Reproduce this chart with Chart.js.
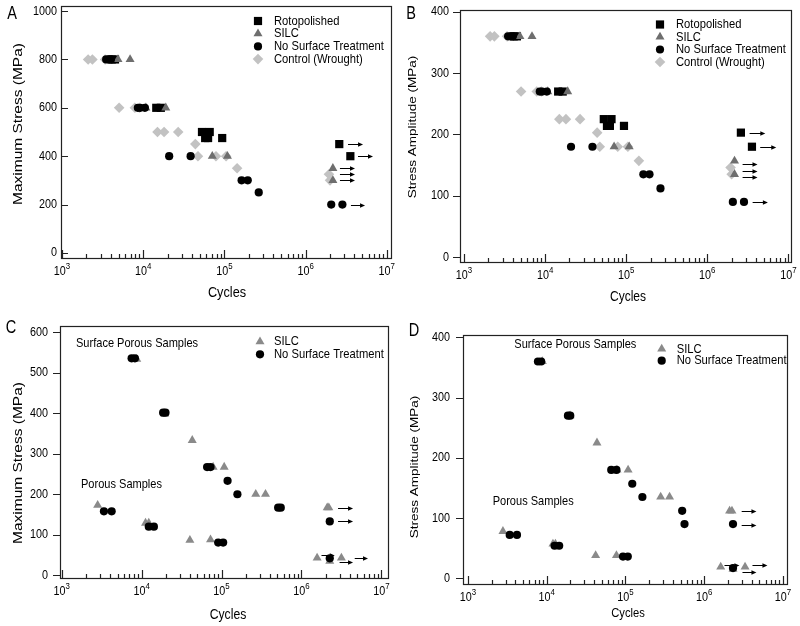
<!DOCTYPE html>
<html>
<head>
<meta charset="utf-8">
<script src="https://cdn.jsdelivr.net/npm/chart.js@4.4.1/dist/chart.umd.min.js"></script>
<style>
  html, body { margin: 0; padding: 0; background: #fff; }
  #wrap { position: relative; width: 800px; height: 626px; }
  #wrap canvas { position: absolute; }
</style>
</head>
<body>
<div id="wrap">
  <canvas id="chartA" width="400" height="305" style="left:0;top:0"></canvas>
  <canvas id="chartB" width="400" height="305" style="left:400px;top:0"></canvas>
  <canvas id="chartC" width="400" height="316" style="left:0;top:310px"></canvas>
  <canvas id="chartD" width="400" height="316" style="left:400px;top:310px"></canvas>
</div>
<script>
// ---- data: panels A & B (same specimens, max stress vs stress amplitude) ----
const rotoCycles = [4100, 4500, 14500, 16500, 53000, 66000, 58000, 63000, 94000, 2600000, 3560000];
const rotoMax    = [800, 800, 600, 600, 500, 500, 475, 475, 475, 450, 400];
const rotoAmp    = [360, 360, 270, 270, 225, 225, 214, 214, 214, 203, 180];

const silcCycles = [4900, 6900, 10800, 19000, 71000, 109000, 2170000, 2170000];
const silcMax    = [800, 800, 600, 600, 400, 400, 350, 300];
const silcAmp    = [360, 360, 270, 270, 180, 180, 157, 135];

const nstCycles  = [3500, 3800, 4000, 8600, 9200, 10500, 20900, 38400, 163000, 194000, 265000, 2070000, 2840000];
const nstMax     = [800, 800, 800, 600, 600, 600, 400, 400, 300, 300, 250, 200, 200];
const nstAmp     = [360, 360, 360, 270, 270, 270, 180, 180, 135, 135, 112, 90, 90];

const ctrlCycles = [2100, 2370, 3400, 5060, 7900, 9000, 15000, 18100, 27000, 43900, 47300, 78800, 105000, 143500, 1940000, 2000000];
const ctrlMax    = [800, 800, 800, 600, 600, 600, 500, 500, 500, 450, 400, 400, 400, 350, 325, 300];
const ctrlAmp    = [360, 360, 360, 270, 270, 270, 225, 225, 225, 203, 180, 180, 180, 157, 146, 135];

// run-out arrows: [from cycles, to cycles, stress]
const arrowsA = [[3330000, 5100000, 450], [4420000, 6760000, 400], [2650000, 4060000, 350],
                 [2650000, 4060000, 325], [2650000, 4060000, 300], [3620000, 5400000, 200]];
const arrowsB = [[3330000, 5200000, 203], [4500000, 7100000, 180], [2730000, 4170000, 152],
                 [2730000, 4170000, 141], [2730000, 4170000, 131], [3630000, 5600000, 90]];

// ---- data: panel C (max stress) ----
const silcCCycles = [8700, 19500, 43000, 78500, 108000, 268000, 355000, 2100000, 2200000,
                     2820, 11200, 12300, 40200, 72800, 1570000, 2260000, 3160000];
const silcCMax    = [533, 398, 333, 267, 267, 200, 200, 167, 167,
                     173, 129, 129, 87, 88, 43, 35, 43];
const nstCCycles  = [7500, 8250, 18600, 19900, 66000, 72800, 119000, 158000, 511000, 551000, 2260000,
                     3380, 4220, 12300, 14250, 90800, 104800, 2260000];
const nstCMax     = [535, 535, 401, 401, 267, 267, 233, 200, 167, 167, 133,
                     158, 158, 120, 120, 81, 81, 42];
const arrowsC = [[1780000, 2610000, 50], [4640000, 6800000, 43], [3000000, 4420000, 33],
                 [2870000, 4420000, 167], [2870000, 4420000, 133]];

// ---- data: panel D (stress amplitude) ----
const silcDCycles = [8800, 19800, 43500, 78000, 108000, 280000, 363000, 2100000, 2250000,
                     2780, 12000, 12900, 41800, 76800, 1620000, 2320000, 3300000];
const silcDAmp    = [360, 270, 225, 180, 180, 135, 135, 112, 112,
                     78, 57, 57, 38, 38, 19, 15, 19];
const nstDCycles  = [7740, 8510, 18600, 19900, 66000, 76800, 122000, 164000, 525000, 562000, 2320000,
                     3390, 4190, 12600, 14400, 93000, 107000, 2320000];
const nstDAmp     = [360, 360, 270, 270, 180, 180, 157, 135, 112, 90, 90,
                     72, 72, 54, 54, 36, 36, 17];
const arrowsD = [[1810000, 2800000, 22], [4100000, 6350000, 22], [3060000, 4600000, 11],
                 [2990000, 4600000, 111], [2990000, 4600000, 89]];

// ---- ticks / labels ----
const xTickExps = [3, 4, 5, 6, 7];
const ticksA = [0, 200, 400, 600, 800, 1000];
const ticksB = [0, 100, 200, 300, 400];
const ticksC = [0, 100, 200, 300, 400, 500, 600];
const ticksD = [0, 100, 200, 300, 400];
const legendAB = ['Rotopolished', 'SILC', 'No Surface Treatment', 'Control (Wrought)'];
const legendCD = ['SILC', 'No Surface Treatment'];

// ---- styles ----
const SQUEEZE = 0.83;   // source figure is narrowed horizontally
const FONT = '"Liberation Sans", Arial, Helvetica, sans-serif';
const ROTO   = { style: 'rect',     color: '#000',    r: 5.8 };
const SILC   = { style: 'triangle', color: '#6e6e6e', r: 5.2 };
const SILC2  = { style: 'triangle', color: '#8a8a8a', r: 5.2 };
const NST    = { style: 'circle',   color: '#000',    r: 4.1 };
const CTRL   = { style: 'rectRot',  color: '#c2c2c2', r: 5.3 };

function text(ctx, s, x, y, size, align) {
  ctx.save();
  ctx.font = `${size}px ${FONT}`;
  ctx.translate(x, y);
  ctx.scale(SQUEEZE, 1);
  ctx.textAlign = align || 'left';
  ctx.textBaseline = 'middle';
  ctx.fillText(s, 0, 0);
  ctx.restore();
}

function vtext(ctx, s, x, y, size) {
  ctx.save();
  ctx.font = `${size}px ${FONT}`;
  ctx.translate(x, y);
  ctx.rotate(-Math.PI / 2);
  ctx.scale(1, SQUEEZE);
  ctx.textAlign = 'center';
  ctx.textBaseline = 'middle';
  ctx.fillText(s, 0, 0);
  ctx.restore();
}

function marker(ctx, st, x, y) {
  const r = st.r;
  ctx.fillStyle = st.color;
  ctx.beginPath();
  if (st.style === 'circle') {
    ctx.arc(x, y, r, 0, Math.PI * 2);
  } else if (st.style === 'rect') {
    const s = r * Math.SQRT1_2;
    ctx.rect(x - s, y - s, 2 * s, 2 * s);
  } else if (st.style === 'triangle') {
    ctx.moveTo(x, y - r);
    ctx.lineTo(x + r * Math.sin(2 * Math.PI / 3), y + r / 2);
    ctx.lineTo(x - r * Math.sin(2 * Math.PI / 3), y + r / 2);
    ctx.closePath();
  } else {
    ctx.moveTo(x - r, y); ctx.lineTo(x, y - r); ctx.lineTo(x + r, y); ctx.lineTo(x, y + r);
    ctx.closePath();
  }
  ctx.fill();
}

const figurePlugin = {
  id: 'figure',
  beforeDatasetsDraw(chart, args, o) {
    const { ctx, chartArea: a } = chart;
    const x = chart.scales.x, y = chart.scales.y;
    ctx.save();
    ctx.strokeStyle = '#222';
    ctx.lineWidth = 1.2;
    ctx.strokeRect(a.left + 0.5, a.top + 0.5, a.right - a.left, a.bottom - a.top);

    ctx.beginPath();
    o.yTicks.forEach(v => {
      const py = Math.round(y.getPixelForValue(v)) + 0.5;
      if (o.yTickIn) { ctx.moveTo(a.left, py); ctx.lineTo(a.left + 7, py); }
      else { ctx.moveTo(a.left - 7, py); ctx.lineTo(a.left, py); }
    });
    xTickExps.forEach((e, i) => {
      const d = Math.pow(10, e);
      const px = Math.round(x.getPixelForValue(d)) + 0.5;
      ctx.moveTo(px, a.bottom); ctx.lineTo(px, a.bottom - 8);
      if (i < xTickExps.length - 1) {
        for (let m = 2; m < 10; m++) {
          const q = Math.round(x.getPixelForValue(d * m)) + 0.5;
          ctx.moveTo(q, a.bottom); ctx.lineTo(q, a.bottom - 4);
        }
      }
    });
    ctx.stroke();

    ctx.fillStyle = '#000';
    o.yTicks.forEach(v => {
      text(ctx, String(v), a.left - o.yLabelGap, y.getPixelForValue(v), 13, 'right');
    });
    xTickExps.forEach(e => {
      const px = x.getPixelForValue(Math.pow(10, e));
      ctx.font = `13px ${FONT}`;
      const w1 = ctx.measureText('10').width * SQUEEZE;
      ctx.font = `9.5px ${FONT}`;
      const w2 = ctx.measureText(String(e)).width * SQUEEZE;
      const x0 = px - (w1 + w2) / 2;
      const ly = a.bottom + 13;
      text(ctx, '10', x0, ly, 13, 'left');
      text(ctx, String(e), x0 + w1, ly - 5, 9.5, 'left');
    });

    vtext(ctx, o.yTitle, o.yTitlePos[0], o.yTitlePos[1], o.yTitleSize);
    text(ctx, 'Cycles', o.xTitlePos[0], o.xTitlePos[1], o.xTitleSize, 'center');
    text(ctx, o.letter, o.letterPos[0], o.letterPos[1], 17.5, 'center');
    o.notes.forEach(n => text(ctx, n[0], n[1], n[2], 13.3, 'left'));
    ctx.restore();
  },
  afterDatasetsDraw(chart, args, o) {
    const { ctx } = chart;
    const x = chart.scales.x, y = chart.scales.y;
    ctx.save();
    ctx.strokeStyle = '#000';
    ctx.fillStyle = '#000';
    ctx.lineWidth = 1;
    o.arrows.forEach(([c0, c1, v]) => {
      const x0 = x.getPixelForValue(c0), x1 = x.getPixelForValue(c1);
      const py = Math.round(y.getPixelForValue(v)) + 0.5;
      ctx.beginPath();
      ctx.moveTo(x0, py); ctx.lineTo(x1 - 4, py);
      ctx.stroke();
      ctx.beginPath();
      ctx.moveTo(x1, py); ctx.lineTo(x1 - 5, py - 2.2); ctx.lineTo(x1 - 5, py + 2.2);
      ctx.closePath();
      ctx.fill();
    });

    const L = o.legendPos;
    o.legend.forEach((lab, i) => {
      const ly = L.y + i * L.dy;
      marker(ctx, o.legendStyles[i], L.x, ly);
      ctx.fillStyle = '#000';
      text(ctx, lab, L.tx, ly, 13.5, 'left');
    });
    ctx.restore();
  }
};

function series(label, xs, ys, st) {
  return {
    label,
    data: xs.map((c, i) => ({ x: c, y: ys[i] })),
    pointStyle: st.style,
    pointRadius: st.r,
    pointHoverRadius: st.r,
    pointBackgroundColor: st.color,
    pointBorderColor: st.color,
    pointBorderWidth: 0,
    showLine: false
  };
}

function makeChart(id, datasets, pad, xRange, yRange, fig) {
  return new Chart(document.getElementById(id), {
    type: 'scatter',
    data: { datasets },
    options: {
      responsive: false,
      animation: false,
      events: [],
      layout: { padding: pad },
      scales: {
        x: { type: 'logarithmic', display: false, min: xRange[0], max: xRange[1] },
        y: { type: 'linear', display: false, min: yRange[0], max: yRange[1] }
      },
      plugins: {
        legend: { display: false },
        tooltip: { enabled: false },
        figure: fig
      }
    },
    plugins: [figurePlugin]
  });
}

// draw order: first dataset on top
makeChart('chartA', [
  series('No Surface Treatment', nstCycles, nstMax, NST),
  series('SILC', silcCycles, silcMax, SILC),
  series('Rotopolished', rotoCycles, rotoMax, ROTO),
  series('Control (Wrought)', ctrlCycles, ctrlMax, CTRL)
], { left: 61, top: 6, right: 9, bottom: 47 }, [973, 11270000], [-21, 1021], {
  letter: 'A', letterPos: [12, 14], yTicks: ticksA, yTickIn: true, yLabelGap: 4,
  yTitle: 'Maximum Stress (MPa)', yTitleSize: 15.5, yTitlePos: [18, 124],
  xTitleSize: 15.3, xTitlePos: [227, 293],
  legend: legendAB, legendStyles: [ROTO, SILC, NST, CTRL], legendPos: { x: 258, tx: 274, y: 21, dy: 12.7 },
  arrows: arrowsA, notes: []
});

makeChart('chartB', [
  series('No Surface Treatment', nstCycles, nstAmp, NST),
  series('SILC', silcCycles, silcAmp, SILC),
  series('Rotopolished', rotoCycles, rotoAmp, ROTO),
  series('Control (Wrought)', ctrlCycles, ctrlAmp, CTRL)
], { left: 60, top: 10, right: 9, bottom: 43 }, [893, 10790000], [-8, 403], {
  letter: 'B', letterPos: [11, 14], yTicks: ticksB, yTickIn: false, yLabelGap: 11,
  yTitle: 'Stress Amplitude (MPa)', yTitleSize: 13.5, yTitlePos: [13, 127],
  xTitleSize: 14.5, xTitlePos: [228, 297],
  legend: legendAB, legendStyles: [ROTO, SILC, NST, CTRL], legendPos: { x: 260, tx: 276, y: 24.5, dy: 12.5 },
  arrows: arrowsB, notes: []
});

makeChart('chartC', [
  series('No Surface Treatment', nstCCycles, nstCMax, NST),
  series('SILC', silcCCycles, silcCMax, SILC2)
], { left: 60, top: 16, right: 12, bottom: 48 }, [953, 12100000], [-6.4, 614.7], {
  letter: 'C', letterPos: [11, 18], yTicks: ticksC, yTickIn: false, yLabelGap: 12,
  yTitle: 'Maximum Stress (MPa)', yTitleSize: 15.5, yTitlePos: [18, 153],
  xTitleSize: 14.7, xTitlePos: [228, 305],
  legend: legendCD, legendStyles: [SILC2, NST], legendPos: { x: 260, tx: 274, y: 31.7, dy: 12.6 },
  arrows: arrowsC,
  notes: [['Surface Porous Samples', 76, 33.3], ['Porous Samples', 81, 174.3]]
});

makeChart('chartD', [
  series('No Surface Treatment', nstDCycles, nstDAmp, NST),
  series('SILC', silcDCycles, silcDAmp, SILC2)
], { left: 63, top: 25, right: 13, bottom: 42 }, [865, 11250000], [-9.5, 404], {
  letter: 'D', letterPos: [14, 21], yTicks: ticksD, yTickIn: false, yLabelGap: 13,
  yTitle: 'Stress Amplitude (MPa)', yTitleSize: 13.5, yTitlePos: [15, 157],
  xTitleSize: 13.5, xTitlePos: [228, 303],
  legend: legendCD, legendStyles: [SILC2, NST], legendPos: { x: 261.7, tx: 276.7, y: 39, dy: 11.7 },
  arrows: arrowsD,
  notes: [['Surface Porous Samples', 114.3, 34], ['Porous Samples', 92.7, 191.7]]
});
</script>
</body>
</html>
